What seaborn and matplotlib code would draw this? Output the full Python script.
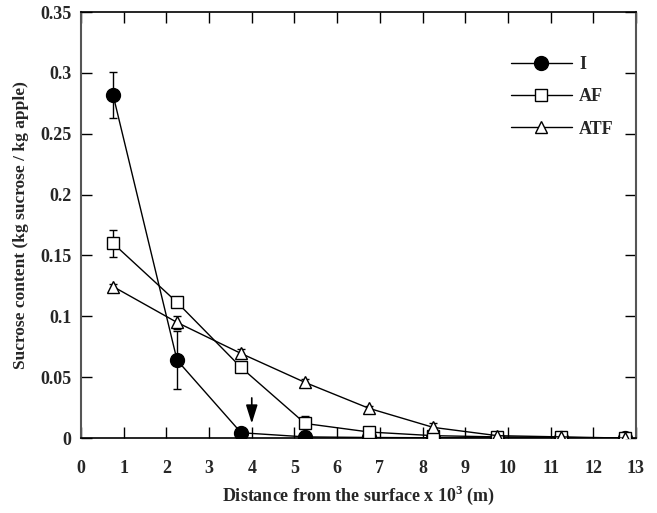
import matplotlib
matplotlib.use("Agg")
import matplotlib.pyplot as plt
import seaborn as sns
import numpy as np
import pandas as pd

sns.set_theme(style="white")
plt.rcParams['font.family'] = ['Liberation Serif', 'DejaVu Serif']
plt.rcParams['font.weight'] = 'bold'
plt.rcParams['mathtext.fontset'] = 'custom'
plt.rcParams['mathtext.rm'] = 'Liberation Serif:bold'
plt.rcParams['mathtext.bf'] = 'Liberation Serif:bold'

# Data
distance = [0.75, 2.25, 3.75, 5.25, 6.75, 8.25, 9.75, 11.25, 12.75]
series_names = ["I", "AF", "ATF"]
I_vals = [0.282, 0.064, 0.0044, 0.001, 0.0005, 0.0003, 0.0002, 0.0001, 0.0]
I_err = [0.019, 0.024, 0.0, 0.0, 0.0, 0.0, 0.0, 0.0, 0.0]
AF_vals = [0.160, 0.1115, 0.058, 0.012, 0.005, 0.002, 0.001, 0.0005, 0.0]
AF_err = [0.011, 0.002, 0.003, 0.006, 0.0, 0.0, 0.0, 0.0, 0.0]
ATF_vals = [0.1245, 0.095, 0.0695, 0.0457, 0.0244, 0.0088, 0.002, 0.001, 0.0]
ATF_err = [0.002, 0.005, 0.004, 0.003, 0.002, 0.004, 0.0, 0.0, 0.0]
x_ticks = list(range(0, 14))
y_ticks = [0, 0.05, 0.1, 0.15, 0.2, 0.25, 0.3, 0.35]
y_tick_labels = ["0", "0.05", "0.1", "0.15", "0.2", "0.25", "0.3", "0.35"]
arrow_x = 4.0
arrow_y_start = 0.033
arrow_y_end = 0.012

fig = plt.figure(figsize=(6.57, 5.13), dpi=100)
ax = fig.add_axes([0.1233, 0.146, 0.8447, 0.8306])

styles = {
    "I": dict(marker="o", mfc="black", mec="black", ms=10),
    "AF": dict(marker="s", mfc="white", mec="black", ms=9, mew=1.0),
    "ATF": dict(marker="^", mfc="white", mec="black", ms=8, mew=1.0),
}
vals = {"I": I_vals, "AF": AF_vals, "ATF": ATF_vals}
errs = {"I": I_err, "AF": AF_err, "ATF": ATF_err}

for name in series_names:
    df = pd.DataFrame({"x": distance, "y": vals[name]})
    ax.errorbar(df["x"], df["y"], yerr=errs[name], fmt="none", ecolor="black",
                elinewidth=1.0, capsize=3, capthick=1.0, zorder=2)
    st = styles[name]
    sns.lineplot(data=df, x="x", y="y", ax=ax, color="black", linewidth=1.0,
                 marker=st["marker"], markersize=st["ms"],
                 markerfacecolor=st["mfc"], markeredgecolor=st["mec"],
                 markeredgewidth=st.get("mew", 1.0), label=name, zorder=3)

ax.annotate("", xy=(arrow_x, arrow_y_end), xytext=(arrow_x, arrow_y_start),
            arrowprops=dict(arrowstyle="-|>,head_length=0.7,head_width=0.22",
                            color="black", lw=1.2,
                            mutation_scale=16, shrinkA=0, shrinkB=0))

ax.set_xlim(0, 13)
ax.set_ylim(0, 0.35)
ax.set_xticks(x_ticks)
ax.set_xticklabels([str(t) for t in x_ticks])
ax.set_yticks(y_ticks)
ax.set_yticklabels(y_tick_labels)
ax.tick_params(axis="both", direction="in", length=8, width=1.0, color="black",
               labelsize=13, top=True, right=True, bottom=True, left=True)
ax.tick_params(axis="x", pad=16)
ax.tick_params(axis="y", pad=7)
for lab in ax.get_xticklabels() + ax.get_yticklabels():
    lab.set_fontweight("bold")

for side in ["top", "bottom"]:
    ax.spines[side].set_color("black")
    ax.spines[side].set_linewidth(1.2)
for side in ["left", "right"]:
    ax.spines[side].set_color("#555555")
    ax.spines[side].set_linewidth(1.5)

ax.set_xlabel(r"Distance from the surface x 10$^{3}$ (m)", fontsize=13,
              fontweight="bold", labelpad=5)
ax.set_ylabel("Sucrose content (kg sucrose / kg apple)", fontsize=12.5,
              fontweight="bold", labelpad=8)

leg = ax.legend(loc="upper left", bbox_to_anchor=(0.745, 0.935), frameon=False,
                handlelength=3.4, labelspacing=0.85, handletextpad=0.4,
                prop={"weight": "bold", "size": 13})

fig.savefig("out.png", dpi=100)
